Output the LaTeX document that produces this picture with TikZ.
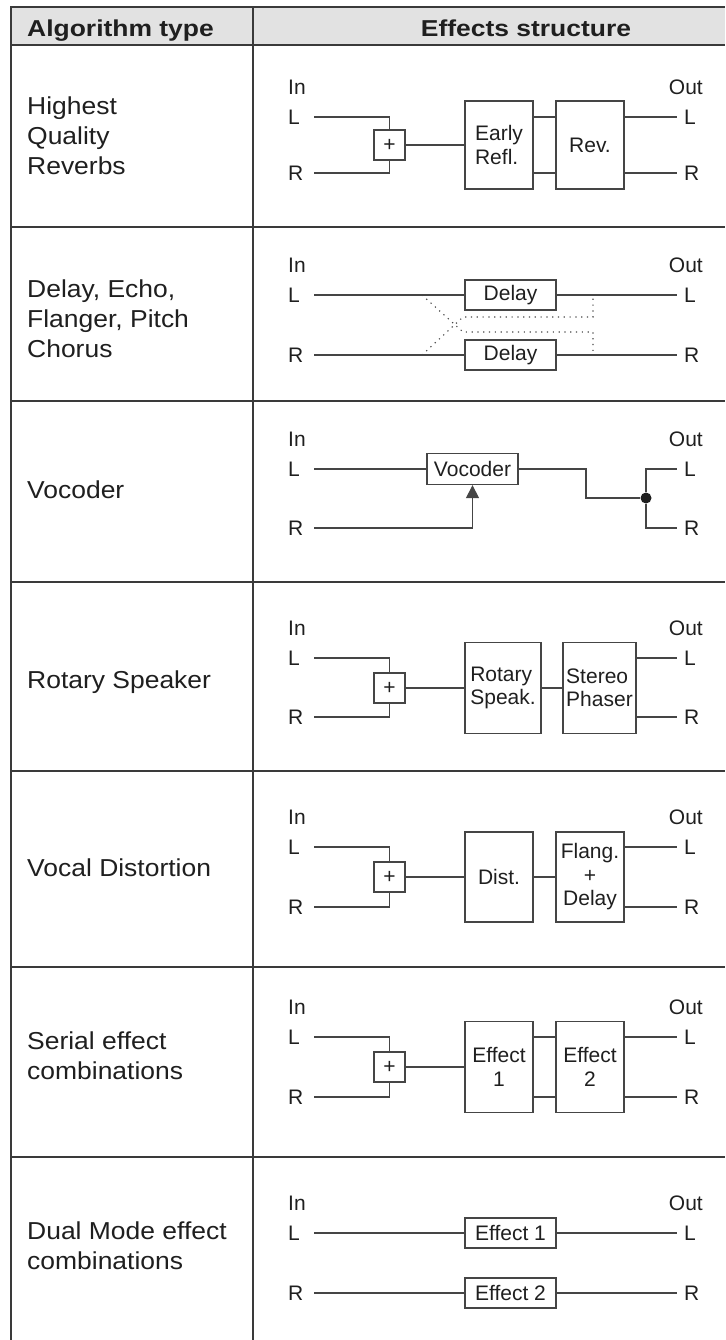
\documentclass[tikz,border=0pt]{standalone}
\usepackage{fontspec}
\setmainfont{Liberation Sans}
\newfontfamily\kindfont[FakeStretch=1.08]{Liberation Sans}
\newfontfamily\headfont[FakeStretch=1.15]{Liberation Sans}
\usetikzlibrary{arrows.meta}
\definecolor{rulegray}{HTML}{3A3A3A}
\definecolor{wiregray}{HTML}{454545}
\definecolor{headgray}{HTML}{E2E2E2}
\definecolor{inkblack}{HTML}{1F1F1F}

\begin{document}
\begin{tikzpicture}[
  x=1pt,
  y=-1pt,
  line join=miter,
  every node/.style={text=inkblack},
  tableline/.style={draw=rulegray,line width=1.4pt},
  tableedge/.style={draw=rulegray,line width=2.4pt},
  headtxt/.style={font=\headfont\bfseries\fontsize{23}{26}\selectfont,inner sep=0},
  kind/.style={font=\kindfont\fontsize{24.5}{30}\selectfont,align=left,inner sep=0,anchor=west},
  lbl/.style={font=\fontsize{21}{23.5}\selectfont,inner sep=0},
  portin/.style={lbl,anchor=west,text width=26pt,align=left},
  portout/.style={lbl,anchor=west,outer xsep=7pt},
  fx/.style={lbl,draw=wiregray,line width=1.3pt,align=center},
  sum/.style={fx,minimum width=31pt,minimum height=30pt},
  wire/.style={draw=wiregray,line width=1.2pt},
  crossfeed/.style={draw=wiregray,line width=1.1pt,dash pattern=on 1.2pt off 4.6pt},
  junc/.style={circle,fill=inkblack,minimum size=11pt,inner sep=0}
]
  \useasboundingbox (0,0) rectangle (725,1340);

  % Table frame, header band and row rules.
  \fill[headgray] (11,7) rectangle (725,45);
  \foreach \yy in {227,401,582,771,967,1157} {
    \draw[tableline] (11,\yy) -- (725,\yy);
  }
  \draw[tableline] (253,7) -- (253,1340);
  \draw[tableedge] (11,1340) -- (11,7) -- (725,7);
  \draw[tableedge] (11,45) -- (725,45);

  \node[headtxt,anchor=base west] (hkind) at (27,37) {Algorithm type};
  \node[headtxt,anchor=base] (hfx) at (526,37) {Effects structure};

  % Algorithm types, left column.
  \node[kind] (k1) at (27,136) {Highest\\Quality\\Reverbs};
  \node[kind] (k2) at (27,319) {Delay, Echo,\\Flanger, Pitch\\Chorus};
  \node[kind] (k3) at (27,490) {Vocoder};
  \node[kind] (k4) at (27,682) {Rotary Speaker};
  \node[kind] (k5) at (27,868) {Vocal Distortion};
  \node[kind] (k6) at (27,1056) {Serial effect\\combinations};
  \node[kind] (k7) at (27,1246) {Dual Mode effect\\combinations};

  % In/Out ports of every row (L and R heights).
  \foreach \r/\yl/\yr in {1/117/173,2/295/355,3/469/528,4/658/717,5/847/907,6/1037/1097,7/1233/1293} {
    \node[lbl,anchor=west] (inlbl\r) at (288,\yl-30) {In};
    \node[lbl,anchor=east] (outlbl\r) at (703,\yl-30) {Out};
    \node[portin] (inL\r) at (288,\yl) {L};
    \node[portin] (inR\r) at (288,\yr) {R};
    \node[portout] (outL\r) at (677,\yl) {L};
    \node[portout] (outR\r) at (677,\yr) {R};
  }

  % Highest quality reverbs.
  \node[sum] (sum1) at (389.5,145) {+};
  \node[fx,minimum width=68pt,minimum height=88pt,align=left] (early) at (499,145) {Early\\Refl.};
  \node[fx,minimum width=68pt,minimum height=88pt] (rev) at (590,145) {Rev.};
  \draw[wire] (inL1.east) -| (sum1.north);
  \draw[wire] (inR1.east) -| (sum1.south);
  \draw[wire] (sum1) -- (early);
  \draw[wire] (early.east |- inL1.east) -- (rev.west |- inL1.east);
  \draw[wire] (early.east |- inR1.east) -- (rev.west |- inR1.east);
  \draw[wire] (rev.east |- outL1.west) -- (outL1.west);
  \draw[wire] (rev.east |- outR1.west) -- (outR1.west);

  % Delay type: two delays with dotted cross feedback.
  \node[fx,minimum width=91pt,minimum height=30pt] (dlyL) at (510.5,295) {Delay};
  \node[fx,minimum width=91pt,minimum height=30pt] (dlyR) at (510.5,355) {Delay};
  \draw[wire] (inL2.east) -- (dlyL);
  \draw[wire] (inR2.east) -- (dlyR);
  \draw[wire] (dlyL) -- (outL2.west);
  \draw[wire] (dlyR) -- (outR2.west);
  \coordinate (xl) at (422,295);
  \coordinate (xr) at (422,355);
  \coordinate (hu) at (463,317);
  \coordinate (hd) at (463,332);
  \coordinate (vu) at (593,317);
  \coordinate (vd) at (593,332);
  \coordinate (tl) at (593,297);
  \coordinate (tr) at (593,353);
  \draw[crossfeed] (xl) -- (hd) -- (vd) -- (tr);
  \draw[crossfeed] (xr) -- (hu) -- (vu) -- (tl);

  % Vocoder.
  \node[fx,minimum width=91pt,minimum height=31pt] (voc) at (472.5,469) {Vocoder};
  \node[junc] (j3) at (646,498) {};
  \coordinate (k3) at (586,469);
  \draw[wire] (inL3.east) -- (voc);
  \draw[wire,-{Triangle[length=13pt,width=13pt]}] (inR3.east) -| (voc.south);
  \draw[wire] (voc.east) -- (k3) |- (j3);
  \draw[wire] (j3) |- (outL3.west);
  \draw[wire] (j3) |- (outR3.west);

  % Rotary speaker.
  \node[sum] (sum4) at (389.5,688) {+};
  \node[fx,minimum width=76pt,minimum height=91pt,align=left] (rotary) at (503,688) {Rotary\\Speak.};
  \node[fx,minimum width=73pt,minimum height=91pt,align=left] (phaser) at (599.5,688) {Stereo\\Phaser};
  \draw[wire] (inL4.east) -| (sum4.north);
  \draw[wire] (inR4.east) -| (sum4.south);
  \draw[wire] (sum4) -- (rotary);
  \draw[wire] (rotary) -- (phaser);
  \draw[wire] (phaser.east |- outL4.west) -- (outL4.west);
  \draw[wire] (phaser.east |- outR4.west) -- (outR4.west);

  % Vocal distortion.
  \node[sum] (sum5) at (389.5,877) {+};
  \node[fx,minimum width=68pt,minimum height=90pt] (dist) at (499,877) {Dist.};
  \node[fx,minimum width=68pt,minimum height=90pt] (flang) at (590,877) {Flang.\\+\\Delay};
  \draw[wire] (inL5.east) -| (sum5.north);
  \draw[wire] (inR5.east) -| (sum5.south);
  \draw[wire] (sum5) -- (dist);
  \draw[wire] (dist) -- (flang);
  \draw[wire] (flang.east |- outL5.west) -- (outL5.west);
  \draw[wire] (flang.east |- outR5.west) -- (outR5.west);

  % Serial combination.
  \node[sum] (sum6) at (389.5,1067) {+};
  \node[fx,minimum width=68pt,minimum height=91pt] (fxone) at (499,1067) {Effect\\1};
  \node[fx,minimum width=68pt,minimum height=91pt] (fxtwo) at (590,1067) {Effect\\2};
  \draw[wire] (inL6.east) -| (sum6.north);
  \draw[wire] (inR6.east) -| (sum6.south);
  \draw[wire] (sum6) -- (fxone);
  \draw[wire] (fxone.east |- inL6.east) -- (fxtwo.west |- inL6.east);
  \draw[wire] (fxone.east |- inR6.east) -- (fxtwo.west |- inR6.east);
  \draw[wire] (fxtwo.east |- outL6.west) -- (outL6.west);
  \draw[wire] (fxtwo.east |- outR6.west) -- (outR6.west);

  % Dual mode combination.
  \node[fx,minimum width=91pt,minimum height=30pt] (dualA) at (510.5,1233) {Effect 1};
  \node[fx,minimum width=91pt,minimum height=30pt] (dualB) at (510.5,1293) {Effect 2};
  \draw[wire] (inL7.east) -- (dualA);
  \draw[wire] (inR7.east) -- (dualB);
  \draw[wire] (dualA) -- (outL7.west);
  \draw[wire] (dualB) -- (outR7.west);
\end{tikzpicture}
\end{document}
